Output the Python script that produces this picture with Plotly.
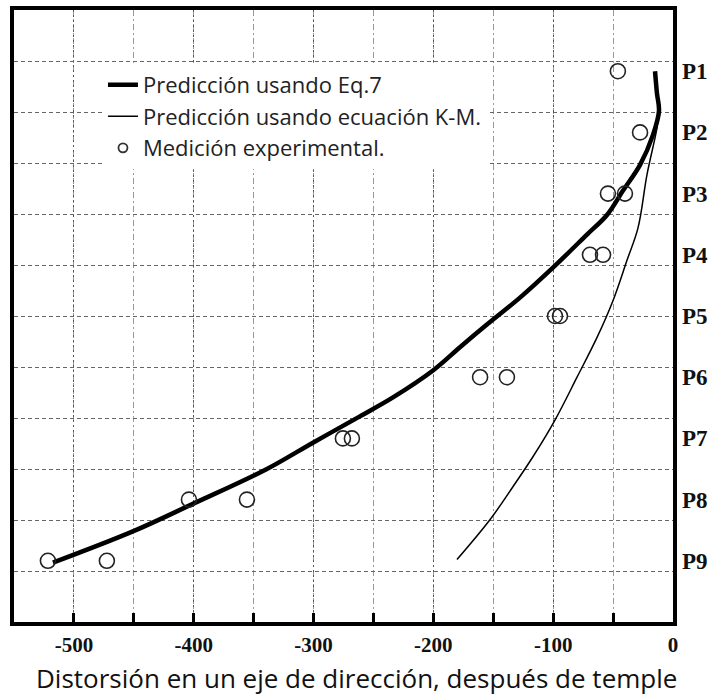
import plotly.graph_objects as go

# ---- data (x: distortion, y: position index P1..P9, 1..9) ----
eq7_x = [-15.0, -13.4, -11.7, -16.7, -27.5, -41.7, -55.1, -71.8, -100.2, -127.7,
         -155.3, -177.8, -200.3, -233.7, -261.3, -300.5, -338.9, -400.7, -450.8, -517.5]
eq7_y = [1.00, 1.36, 1.65, 2.04, 2.53, 2.95, 3.35, 3.67, 4.21, 4.70,
         5.14, 5.51, 5.89, 6.33, 6.64, 7.07, 7.50, 8.07, 8.52, 9.03]

km_x = [-11.7, -13.4, -21.7, -29.2, -38.4, -50.1, -63.4, -80.1, -98.5, -116.9,
        -133.6, -152.8, -180.3]
km_y = [1.65, 1.93, 2.69, 3.56, 4.09, 4.75, 5.35, 6.00, 6.70, 7.30,
        7.79, 8.33, 8.98]

meas_x = [-46, -27.5, -54.3, -40.1, -69.3, -58.4, -98.5, -94.3, -161, -138.6,
          -275.5, -268, -404, -355.6, -521.7, -472.5]
meas_y = [1, 2, 3, 3, 4, 4, 5, 5, 6, 6, 7, 7, 8, 8, 9, 9]

pos_vals = [1, 2, 3, 4, 5, 6, 7, 8, 9]
pos_labels = ["P1", "P2", "P3", "P4", "P5", "P6", "P7", "P8", "P9"]

x_ticks = [-500, -400, -300, -200, -100, 0]
x_minor = [-500, -450, -400, -350, -300, -250, -200, -150, -100, -50]

legend_names = ["Predicción usando Eq.7", "Predicción usando ecuación K-M.",
                "Medición experimental."]
x_title = "Distorsión en un eje de dirección, después de temple"

fig = go.Figure()
fig.add_trace(go.Scatter(x=eq7_x, y=eq7_y, mode="lines", name=legend_names[0],
                         line=dict(color="black", width=4.5, shape="spline")))
fig.add_trace(go.Scatter(x=km_x, y=km_y, mode="lines", name=legend_names[1],
                         line=dict(color="black", width=1.5, shape="spline")))
fig.add_trace(go.Scatter(x=meas_x, y=meas_y, mode="markers", showlegend=False,
                         marker=dict(symbol="circle-open", size=15, color="#222",
                                     line=dict(width=1.6, color="#222"))))
# legend-only entry for the measurement symbol
fig.add_trace(go.Scatter(x=[None], y=[None], mode="markers", name=legend_names[2],
                         marker=dict(symbol="circle-open", size=9, color="#333",
                                     line=dict(width=1.8, color="#333"))))
# invisible trace on right axis for P labels
fig.add_trace(go.Scatter(x=[meas_x[0]], y=[meas_y[0]], yaxis="y2", mode="markers",
                         marker=dict(opacity=0), showlegend=False, hoverinfo="skip"))

fig.update_layout(
    width=712, height=696,
    margin=dict(l=14, r=39, t=10, b=74),
    paper_bgcolor="white", plot_bgcolor="white",
    showlegend=True,
    legend=dict(x=0.135, y=0.912, xanchor="left", yanchor="top",
                bgcolor="white", borderwidth=0,
                font=dict(family="Open Sans", size=22, color="#222"),
                traceorder="normal"),
    xaxis=dict(
        range=[-550, 0], tickvals=x_ticks,
        ticktext=[str(v) for v in x_ticks],
        ticks="inside", ticklen=9, tickwidth=2.5, tickcolor="black",
        tickfont=dict(family="Liberation Serif", size=21, color="#111", weight="bold"),
        ticklabelstandoff=1, automargin=False,
        showline=True, linewidth=3.5, linecolor="black", mirror=True,
        showgrid=True, gridcolor="#555", gridwidth=1.4, griddash="2px,3px",
        minor=dict(tickvals=x_minor,
                   ticks="inside", ticklen=9, tickwidth=2.5, tickcolor="black",
                   showgrid=True, gridcolor="#999", gridwidth=1.2,
                   griddash="6px,3px,2px,3px"),
        zeroline=False,
    ),
    yaxis=dict(
        range=[10, 0], tick0=0, dtick=5/6, showticklabels=False, ticks="",
        showline=True, linewidth=3.5, linecolor="black", mirror=True,
        showgrid=True, gridcolor="#666", gridwidth=1.4, griddash="4px,3px",
        zeroline=False, automargin=False,
    ),
    yaxis2=dict(
        overlaying="y", side="right", matches="y", range=[10, 0],
        tickvals=pos_vals, ticktext=pos_labels, ticks="", showgrid=False,
        showline=False, zeroline=False, ticklabelstandoff=8, automargin=False,
        tickfont=dict(family="Liberation Serif", size=23, color="#111", weight="bold"),
    ),
    annotations=[dict(text=x_title, xref="paper", yref="paper", x=0.52, y=-0.0915,
                      xanchor="center", yanchor="middle", showarrow=False,
                      font=dict(family="Open Sans", size=26, color="#111"))],
)

fig.write_html("out.html")
